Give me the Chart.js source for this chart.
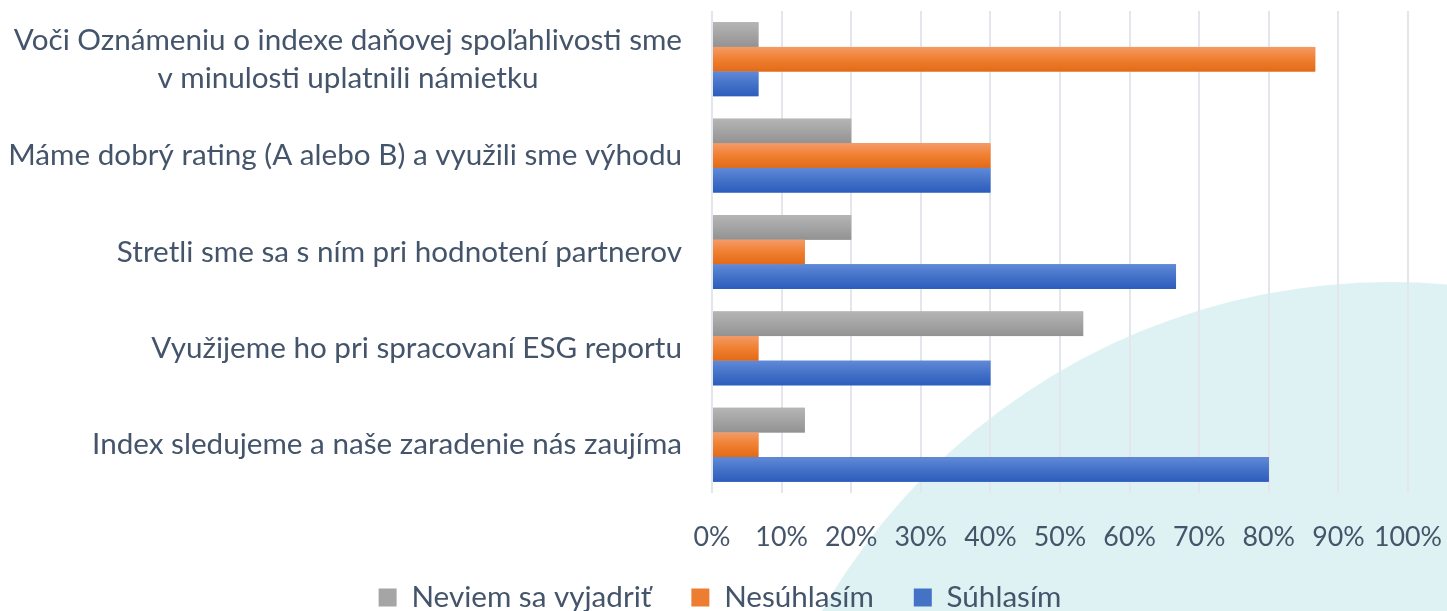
<!DOCTYPE html>
<html><head><meta charset="utf-8">
<script src="https://cdn.jsdelivr.net/npm/chart.js@4.4.1/dist/chart.umd.min.js"></script>
<style>html,body{margin:0;padding:0;background:#fff;overflow:hidden}#wrap{width:1447px;height:611px;position:relative}</style>
</head><body><div id="wrap"><canvas id="c" width="1447" height="611"></canvas></div>
<script>
// ---- data ----
const categories = [
  ["Voči Oznámeniu o indexe daňovej spoľahlivosti sme", "v minulosti uplatnili námietku"],
  "Máme dobrý rating (A alebo B) a využili sme výhodu",
  "Stretli sme sa s ním pri hodnotení partnerov",
  "Využijeme ho pri spracovaní ESG reportu",
  "Index sledujeme a naše zaradenie nás zaujíma"
];
const seriesNames = ["Neviem sa vyjadriť", "Nesúhlasím", "Súhlasím"];
const neviem     = [6.67, 20, 20, 53.33, 13.33];
const nesuhlasim = [86.67, 40, 13.33, 6.67, 6.67];
const suhlasim   = [6.67, 40, 66.67, 40, 80];
const xTickLabels = ["0%","10%","20%","30%","40%","50%","60%","70%","80%","90%","100%"];

// ---- style ----
const FONT = "Lato";
const TEXT = "#44546a";
const baseColors = ["#a5a5a5", "#ed7d31", "#4472c4"];
const gradStops = [
  ["#b5b5b5", "#a4a4a4", "#929292"],
  ["#f39b68", "#f07f30", "#e26a17"],
  ["#618ad8", "#4472c8", "#2c5cbd"]
];

function fitSize(text, target) {
  const c = document.createElement("canvas").getContext("2d");
  c.font = "100px " + FONT;
  return 100 * target / c.measureText(text).width;
}

function build() {
  const labelSize = fitSize("Máme dobrý rating (A alebo B) a využili sme výhodu", 674);
  const tickSize = fitSize("100%", 68);
  const legendSize = fitSize("Neviem sa vyjadriť", 240);
  const legendPad = 40;
  const plotBottom = 493;
  const xAxisH = 72;
  const legendMaxH = 611 - plotBottom - xAxisH;
  const tickPad = (537 - plotBottom) - tickSize * 0.6;

  const bgPlugin = {
    id: "bg",
    beforeDraw(chart) {
      const ctx = chart.ctx;
      ctx.save();
      ctx.fillStyle = "#ffffff";
      ctx.fillRect(0, 0, chart.width, chart.height);
      ctx.fillStyle = "#dff2f3";
      ctx.beginPath();
      ctx.arc(1390, 937, 655, 0, Math.PI * 2);
      ctx.fill();
      ctx.restore();
    }
  };

  const shadePlugin = {
    id: "shade",
    afterDatasetsDraw(chart) {
      const ctx = chart.ctx;
      ctx.save();
      chart.data.datasets.forEach((ds, di) => {
        const meta = chart.getDatasetMeta(di);
        meta.data.forEach(el => {
          const p = el.getProps(["x", "y", "base", "height"], true);
          const top = p.y - p.height / 2;
          const g = ctx.createLinearGradient(0, top, 0, top + p.height);
          g.addColorStop(0, gradStops[di][0]);
          g.addColorStop(0.5, gradStops[di][1]);
          g.addColorStop(1, gradStops[di][2]);
          ctx.fillStyle = g;
          ctx.fillRect(Math.min(p.base, p.x), top, Math.abs(p.x - p.base), p.height);
        });
      });
      ctx.restore();
    }
  };

  const yLabelPlugin = {
    id: "ylabels",
    afterDraw(chart) {
      const ys = chart.scales.y;
      const ctx = chart.ctx;
      ctx.save();
      ctx.font = labelSize + "px " + FONT;
      ctx.fillStyle = TEXT;
      ctx.textAlign = "center";
      ctx.textBaseline = "middle";
      const rightX = chart.chartArea.left - 30;
      const lh = 38;
      categories.forEach((lab, i) => {
        const lines = Array.isArray(lab) ? lab : [lab];
        const w = Math.max(...lines.map(l => ctx.measureText(l).width));
        const cx = rightX - w / 2;
        const cy = ys.getPixelForTick(i);
        lines.forEach((l, j) => ctx.fillText(l, cx, cy + (j - (lines.length - 1) / 2) * lh));
      });
      ctx.restore();
    }
  };

  const legendPos = {
    id: "legendPos",
    afterLayout(chart) {
      const l = chart.legend;
      if (!l) return;
      const itemH = Math.max(legendSize, 18);
      const targetTop = 597.5 - legendPad - itemH / 2;
      l.top = targetTop;
      l.bottom = chart.height;
      l.height = l.bottom - l.top;
      const dx = 720 - (l.left + l.right) / 2;
      l.left += dx; l.right += dx;
    }
  };

  new Chart(document.getElementById("c"), {
    type: "bar",
    data: {
      labels: categories,
      datasets: [
        { label: seriesNames[0], data: neviem, backgroundColor: baseColors[0] },
        { label: seriesNames[1], data: nesuhlasim, backgroundColor: baseColors[1] },
        { label: seriesNames[2], data: suhlasim, backgroundColor: baseColors[2] }
      ]
    },
    options: {
      indexAxis: "y",
      responsive: false,
      animation: false,
      events: [],
      layout: { padding: { top: 11, right: 39, bottom: 0, left: 0 } },
      datasets: { bar: { categoryPercentage: 0.767, barPercentage: 1.0, borderWidth: 0 } },
      scales: {
        x: {
          min: 0, max: 100,
          afterFit(s) { s.height = xAxisH; s.paddingLeft = 0; s.paddingRight = 0; },
          afterBuildTicks(s) { s.ticks = xTickLabels.map((t, i) => ({ value: i * 10 })); },
          ticks: {
            callback: (v, i) => xTickLabels[i],
            color: TEXT,
            font: { family: FONT, size: tickSize },
            padding: tickPad,
            maxRotation: 0, autoSkip: false
          },
          grid: { color: "#e3e6ec", lineWidth: 2, drawTicks: false },
          border: { display: false }
        },
        y: {
          afterFit(s) { s.width = 712; s.paddingTop = 0; s.paddingBottom = 0; },
          ticks: { display: false },
          grid: { display: false, drawTicks: false },
          border: { display: false }
        }
      },
      plugins: {
        legend: {
          position: "bottom",
          maxHeight: legendMaxH,
          labels: {
            boxWidth: 18, boxHeight: 18,
            padding: legendPad,
            color: TEXT,
            font: { family: FONT, size: legendSize }
          }
        },
        tooltip: { enabled: false }
      }
    },
    plugins: [bgPlugin, shadePlugin, yLabelPlugin, legendPos]
  });
}

if (document.fonts && document.fonts.load) {
  Promise.all([document.fonts.load("30px " + FONT)]).then(build, build);
} else build();
</script>
</body></html>
